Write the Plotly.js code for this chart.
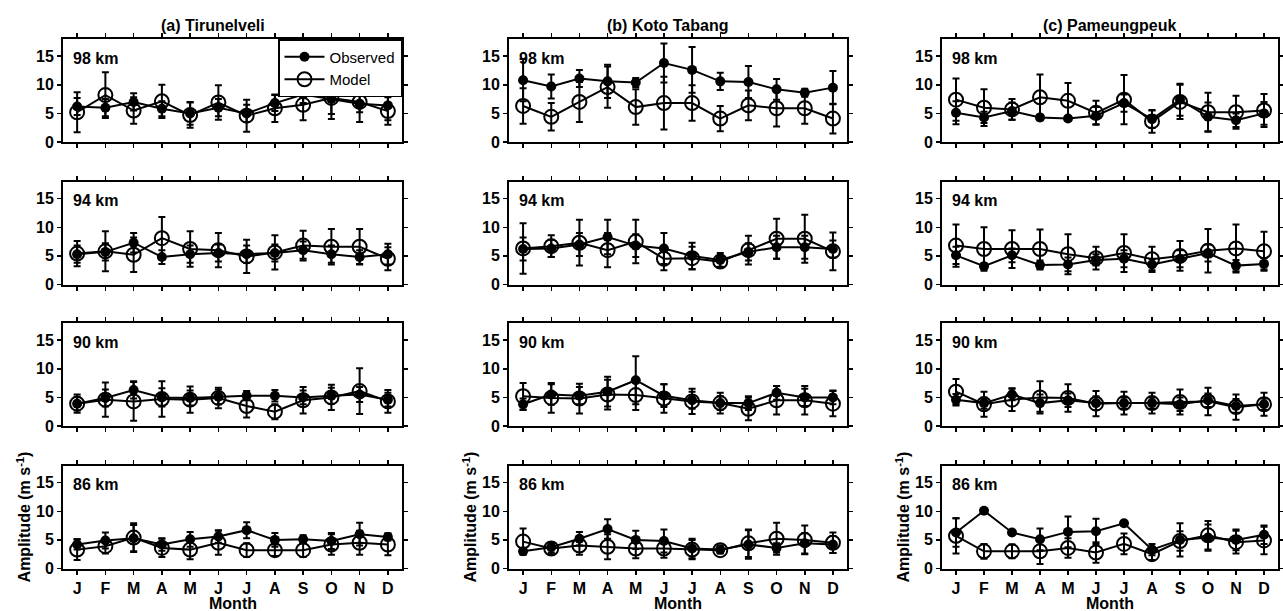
<!DOCTYPE html>
<html><head><meta charset="utf-8">
<script src="https://cdn.plot.ly/plotly-3.0.1.min.js"></script>
<style>html,body{margin:0;padding:0;background:#fff}#chart{width:1283px;height:611px}</style>
</head><body><div id="chart"></div>
<script>
const monthIndex = [1, 2, 3, 4, 5, 6, 7, 8, 9, 10, 11, 12];
const monthLabels = ['J', 'F', 'M', 'A', 'M', 'J', 'J', 'A', 'S', 'O', 'N', 'D'];
const stations = ['(a) Tirunelveli', '(b) Koto Tabang', '(c) Pameungpeuk'];
const altitudes = ['98 km', '94 km', '90 km', '86 km'];
const yTicks = [0, 5, 10, 15];

// (a) Tirunelveli
const tirObs98 = [6.2, 6.0, 7.0, 5.8, 5.0, 6.0, 5.0, 6.8, 8.3, 7.5, 6.7, 6.4];
const tirObsErr98 = [1.5, 1.5, 1.5, 1.3, 2.0, 1.5, 1.5, 1.4, 1.5, 3.5, 1.5, 2.6];
const tirMod98 = [5.2, 8.2, 5.5, 7.1, 4.7, 6.9, 4.6, 5.9, 6.5, 7.7, 7.0, 5.4];
const tirModErr98 = [3.5, 4.0, 2.3, 2.9, 2.2, 3.0, 2.8, 2.4, 2.7, 2.8, 3.5, 2.4];
const tirObs94 = [5.3, 5.7, 7.3, 4.8, 5.3, 5.5, 5.3, 5.5, 6.0, 5.3, 4.8, 5.3];
const tirObsErr94 = [1.5, 1.5, 1.7, 1.2, 1.5, 1.5, 1.5, 1.5, 1.5, 1.5, 1.2, 1.8];
const tirMod94 = [5.4, 5.8, 5.2, 8.1, 6.2, 6.0, 4.9, 5.6, 6.8, 6.6, 6.6, 4.5];
const tirModErr94 = [2.2, 3.5, 3.0, 3.7, 3.1, 3.0, 2.9, 3.0, 2.6, 3.1, 3.1, 2.0];
const tirObs90 = [3.9, 4.9, 6.3, 5.0, 4.9, 5.1, 5.3, 5.3, 5.0, 5.3, 5.5, 4.6];
const tirObsErr90 = [1.2, 1.5, 1.5, 1.6, 1.3, 1.3, 0.8, 1.0, 1.2, 1.4, 1.3, 1.2];
const tirMod90 = [3.9, 4.6, 4.3, 4.7, 4.6, 4.9, 3.5, 2.5, 4.5, 5.0, 6.1, 4.3];
const tirModErr90 = [1.6, 3.0, 3.4, 3.1, 2.3, 1.8, 2.0, 1.3, 2.3, 2.2, 4.0, 2.0];
const tirObs86 = [4.2, 4.9, 5.3, 4.2, 5.1, 5.6, 6.7, 5.0, 5.1, 4.8, 6.0, 5.5];
const tirObsErr86 = [0.9, 1.4, 2.3, 1.1, 1.3, 1.1, 1.4, 1.2, 0.7, 1.4, 2.0, 0.6];
const tirMod86 = [3.3, 3.9, 5.4, 3.6, 3.3, 4.5, 3.2, 3.2, 3.2, 4.2, 4.5, 4.2];
const tirModErr86 = [1.8, 1.3, 2.5, 1.6, 1.7, 2.1, 1.2, 1.0, 1.2, 1.8, 2.1, 1.9];

// (b) Koto Tabang
const kotObs98 = [10.8, 9.7, 11.1, 10.6, 10.4, 13.8, 12.6, 10.6, 10.5, 9.2, 8.6, 9.5];
const kotObsErr98 = [3.7, 2.1, 1.5, 2.9, 0.8, 3.4, 4.0, 1.5, 2.8, 1.8, 0.7, 2.9];
const kotMod98 = [6.3, 4.4, 7.0, 9.6, 6.1, 6.8, 6.8, 4.1, 6.4, 5.9, 5.9, 4.1];
const kotModErr98 = [3.1, 2.4, 3.5, 3.6, 3.1, 4.6, 3.1, 2.2, 2.6, 3.2, 2.7, 2.6];
const kotObs94 = [6.2, 6.3, 7.0, 8.3, 6.8, 6.3, 5.0, 4.3, 5.7, 6.5, 6.5, 6.2];
const kotObsErr94 = [2.0, 1.5, 2.0, 3.0, 2.0, 2.7, 2.3, 1.2, 1.5, 2.0, 2.0, 1.5];
const kotMod94 = [6.3, 6.7, 7.3, 6.0, 7.5, 4.5, 4.6, 4.0, 6.0, 8.0, 8.0, 5.8];
const kotModErr94 = [4.4, 1.9, 4.0, 3.0, 3.8, 2.0, 2.0, 1.0, 2.5, 3.5, 4.2, 3.3];
const kotObs90 = [3.8, 5.5, 5.3, 6.0, 8.0, 5.3, 4.5, 4.0, 4.0, 5.8, 5.0, 5.0];
const kotObsErr90 = [1.0, 1.8, 1.5, 2.6, 4.2, 2.0, 1.5, 1.2, 1.2, 1.2, 1.5, 1.2];
const kotMod90 = [5.2, 4.9, 4.8, 5.5, 5.4, 4.8, 4.3, 4.0, 3.0, 4.5, 4.5, 3.9];
const kotModErr90 = [2.3, 2.6, 2.6, 2.6, 2.6, 2.5, 2.2, 1.8, 2.0, 2.5, 2.5, 2.2];
const kotObs86 = [3.0, 3.7, 5.2, 6.9, 5.0, 4.8, 3.5, 3.3, 4.2, 3.6, 4.4, 4.2];
const kotObsErr86 = [0.5, 0.9, 1.2, 1.7, 1.6, 2.0, 1.7, 0.7, 2.5, 0.8, 1.8, 1.5];
const kotMod86 = [4.7, 3.5, 4.0, 3.8, 3.5, 3.5, 3.3, 3.2, 4.4, 5.2, 5.0, 4.5];
const kotModErr86 = [2.3, 1.0, 1.6, 2.2, 1.7, 1.6, 1.7, 0.5, 2.4, 2.8, 2.5, 1.8];

// (c) Pameungpeuk
const pamObs98 = [5.1, 4.3, 5.4, 4.3, 4.1, 4.6, 6.8, 4.0, 7.4, 4.4, 3.8, 5.0];
const pamObsErr98 = [2.0, 1.0, 1.5, 0.3, 0.3, 1.5, 1.5, 1.5, 2.8, 2.5, 1.2, 2.0];
const pamMod98 = [7.4, 6.0, 5.7, 7.8, 7.2, 5.1, 7.4, 3.6, 7.0, 5.2, 5.2, 5.5];
const pamModErr98 = [3.7, 3.2, 1.8, 4.0, 3.1, 2.1, 4.3, 2.0, 3.0, 3.4, 2.9, 2.9];
const pamObs94 = [5.1, 3.2, 5.1, 3.4, 3.5, 4.3, 4.5, 3.5, 4.5, 5.5, 3.3, 3.6];
const pamObsErr94 = [1.5, 0.5, 1.2, 0.8, 1.2, 1.0, 1.5, 1.0, 1.5, 1.5, 1.0, 1.0];
const pamMod94 = [6.8, 6.2, 6.2, 6.2, 5.3, 4.6, 5.5, 4.4, 5.0, 5.9, 6.3, 5.8];
const pamModErr94 = [3.7, 3.8, 3.3, 3.4, 3.5, 2.0, 3.3, 2.2, 2.6, 3.8, 4.2, 3.4];
const pamObs90 = [4.6, 4.0, 5.5, 4.0, 4.5, 4.0, 4.0, 4.0, 3.8, 4.5, 3.5, 3.8];
const pamObsErr90 = [1.0, 1.0, 1.0, 1.5, 1.2, 1.2, 1.0, 1.0, 1.2, 1.2, 1.2, 1.0];
const pamMod90 = [6.0, 3.8, 4.6, 5.0, 4.9, 3.9, 4.0, 4.0, 4.2, 4.3, 3.3, 3.8];
const pamModErr90 = [2.2, 2.2, 2.0, 2.8, 2.4, 2.2, 2.0, 1.8, 2.2, 2.4, 2.2, 2.0];
const pamObs86 = [6.3, 10.1, 6.3, 5.1, 6.4, 6.5, 7.9, 3.3, 5.0, 5.4, 5.0, 5.9];
const pamObsErr86 = [2.5, 0.2, 0.2, 1.9, 2.7, 2.2, 0.2, 1.0, 2.9, 2.3, 1.8, 1.6];
const pamMod86 = [5.7, 3.0, 3.0, 3.0, 3.6, 2.8, 4.3, 2.5, 4.8, 5.8, 4.6, 4.9];
const pamModErr86 = [3.1, 1.3, 1.2, 2.2, 1.7, 1.8, 1.8, 1.0, 1.7, 2.5, 2.0, 2.4];

const panels = [
  [[tirObs98, tirObsErr98, tirMod98, tirModErr98], [kotObs98, kotObsErr98, kotMod98, kotModErr98], [pamObs98, pamObsErr98, pamMod98, pamModErr98]],
  [[tirObs94, tirObsErr94, tirMod94, tirModErr94], [kotObs94, kotObsErr94, kotMod94, kotModErr94], [pamObs94, pamObsErr94, pamMod94, pamModErr94]],
  [[tirObs90, tirObsErr90, tirMod90, tirModErr90], [kotObs90, kotObsErr90, kotMod90, kotModErr90], [pamObs90, pamObsErr90, pamMod90, pamModErr90]],
  [[tirObs86, tirObsErr86, tirMod86, tirModErr86], [kotObs86, kotObsErr86, kotMod86, kotModErr86], [pamObs86, pamObsErr86, pamMod86, pamModErr86]]
];

const W = 1283, H = 611;
const colPx = [[63, 402], [509, 847], [942, 1278]];
const rowPx = [[39, 142], [181.5, 284.5], [323, 426], [465.5, 568.5]];
const titleCenters = [213, 667, 1109];
const FONT = 'Liberation Sans, Arial, Helvetica, sans-serif';
const FS = 16;

const traces = [];
const layout = {
  width: W, height: H,
  margin: {l: 0, r: 0, t: 0, b: 0},
  paper_bgcolor: '#fff', plot_bgcolor: '#fff',
  font: {family: FONT, size: FS, color: '#000'},
  showlegend: true,
  legend: {
    x: colPx[0][1] / W, xanchor: 'right', y: 1 - rowPx[0][0] / H, yanchor: 'top',
    bgcolor: '#fff', bordercolor: '#000', borderwidth: 1.5,
    font: {family: FONT, size: 15, color: '#000'},
    tracegroupgap: 0, itemwidth: 40
  },
  annotations: []
};

for (let r = 0; r < 4; r++) {
  for (let c = 0; c < 3; c++) {
    const k = r * 3 + c + 1;
    const xa = 'x' + k, ya = 'y' + k;
    const [obs, obsErr, mod, modErr] = panels[r][c];
    const first = (k === 1);
    traces.push({
      x: monthIndex, y: mod, xaxis: xa, yaxis: ya, type: 'scatter', mode: 'lines+markers',
      name: 'Model', legendrank: 2, showlegend: first,
      line: {color: '#000', width: 2},
      marker: {symbol: 'circle-open', size: 14, color: '#000', line: {width: 2, color: '#000'}},
      error_y: {type: 'data', array: modErr, visible: true, color: '#000', thickness: 2, width: 3.5}
    });
    traces.push({
      x: monthIndex, y: obs, xaxis: xa, yaxis: ya, type: 'scatter', mode: 'lines+markers',
      name: 'Observed', legendrank: 1, showlegend: first,
      line: {color: '#000', width: 2},
      marker: {symbol: 'circle', size: 10, color: '#000'},
      error_y: {type: 'data', array: obsErr, visible: true, color: '#000', thickness: 2, width: 3.5}
    });
    const bottom = (r === 3);
    const xkey = 'xaxis' + (k === 1 ? '' : k), ykey = 'yaxis' + (k === 1 ? '' : k);
    const xax = {
      domain: [colPx[c][0] / W, colPx[c][1] / W], anchor: ya,
      range: [0.5, 12.5], tickvals: monthIndex, ticktext: monthLabels,
      showticklabels: bottom, ticks: 'outside', ticklen: 4, tickwidth: 1.5, tickcolor: '#000',
      showline: true, linecolor: '#000', linewidth: 2, mirror: 'ticks',
      showgrid: false, zeroline: false, fixedrange: true,
      tickfont: {family: FONT, size: FS, weight: 'bold', color: '#000'}
    };
    const yax = {
      domain: [1 - rowPx[r][1] / H, 1 - rowPx[r][0] / H], anchor: xa,
      range: [0, 18], tickvals: yTicks,
      ticks: 'outside', ticklen: 4, tickwidth: 1.5, tickcolor: '#000',
      showline: true, linecolor: '#000', linewidth: 2, mirror: 'ticks',
      showgrid: false, zeroline: false, fixedrange: true,
      tickfont: {family: FONT, size: FS, weight: 'bold', color: '#000'}
    };
    if (bottom) {
      yax.title = {text: '<b>Amplitude (m s<sup>-1</sup>)</b>', font: {family: FONT, size: FS, color: '#000'}, standoff: 1};
      // x-axis title drawn as an annotation so it is not squeezed by the zero bottom margin
      layout.annotations.push({
        xref: xa + ' domain', yref: 'paper', x: 0.5, y: 1 - 603.5 / H,
        xanchor: 'center', yanchor: 'middle', showarrow: false,
        text: '<b>Month</b>', font: {family: FONT, size: FS, color: '#000'}
      });
    }
    layout[xkey] = xax;
    layout[ykey] = yax;
    layout.annotations.push({
      xref: xa, yref: ya, x: 0.8, y: 14.6, xanchor: 'left', yanchor: 'middle',
      text: '<b>' + altitudes[r] + '</b>', showarrow: false,
      font: {family: FONT, size: FS, color: '#000'}
    });
  }
}
for (let c = 0; c < 3; c++) {
  layout.annotations.push({
    xref: 'paper', yref: 'paper', x: titleCenters[c] / W, y: 1 - 26 / H,
    xanchor: 'center', yanchor: 'middle', showarrow: false,
    text: '<b>' + stations[c] + '</b>',
    font: {family: FONT, size: FS, color: '#000'}
  });
}
Plotly.newPlot('chart', traces, layout, {displayModeBar: false, staticPlot: true});
</script>
</body></html>
